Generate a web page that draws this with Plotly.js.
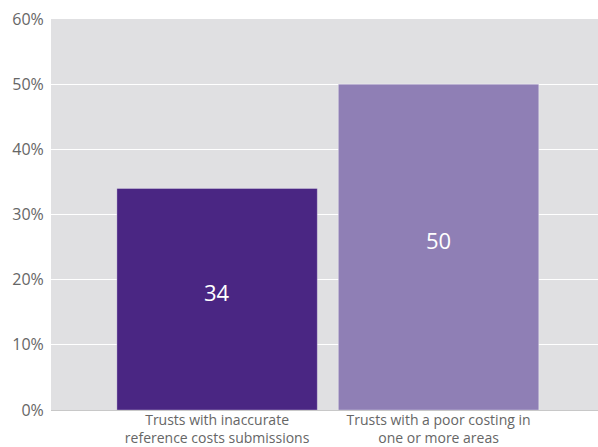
<!DOCTYPE html>
<html><head><meta charset="utf-8">
<script src="https://cdn.plot.ly/plotly-3.0.1.min.js"></script>
<style>html,body{margin:0;padding:0;background:#fff}</style>
</head><body><div id="chart" style="width:598px;height:447px"></div>
<script>
const categories = ["Trusts with inaccurate<br>reference costs submissions", "Trusts with a poor costing in<br>one or more areas"];
const values = [34, 50];
const barColors = ["#4a2683", "#8f7fb5"];
const tickVals = [0, 10, 20, 30, 40, 50, 60];
const tickText = ["0%", "10%", "20%", "30%", "40%", "50%", "60%"];

const annotations = categories.map((c, i) => ({
  x: c, y: values[i] / 2, xref: "x", yref: "y",
  text: String(values[i]), showarrow: false, yshift: 7,
  font: {family: "Open Sans", size: 22, color: "#ffffff"}
}));

Plotly.newPlot("chart", [{
  type: "bar",
  x: categories,
  y: values,
  width: 0.905,
  marker: {color: barColors, line: {color: "rgba(255,255,255,0.3)", width: 1}},
  hoverinfo: "none"
}], {
  width: 598, height: 447,
  margin: {l: 51, r: 0, t: 19, b: 37},
  paper_bgcolor: "#ffffff",
  plot_bgcolor: "#e0e0e2",
  showlegend: false,
  annotations: annotations,
  font: {family: "Open Sans", color: "#666666", size: 14},
  xaxis: {
    range: [-0.75, 1.72],
    tickfont: {family: "Open Sans", size: 14, color: "#666666"},
    showgrid: false, zeroline: false, ticks: "", automargin: false
  },
  yaxis: {
    range: [0, 60],
    tickvals: tickVals, ticktext: tickText,
    tickfont: {family: "Open Sans", size: 16, color: "#666666"},
    gridcolor: "#ffffff", gridwidth: 1.3,
    zeroline: true, zerolinecolor: "#c8c8c8", zerolinewidth: 1,
    ticks: "outside", tickcolor: "rgba(0,0,0,0)", ticklen: 3, automargin: false
  }
}, {displayModeBar: false, staticPlot: true});
</script></body></html>
